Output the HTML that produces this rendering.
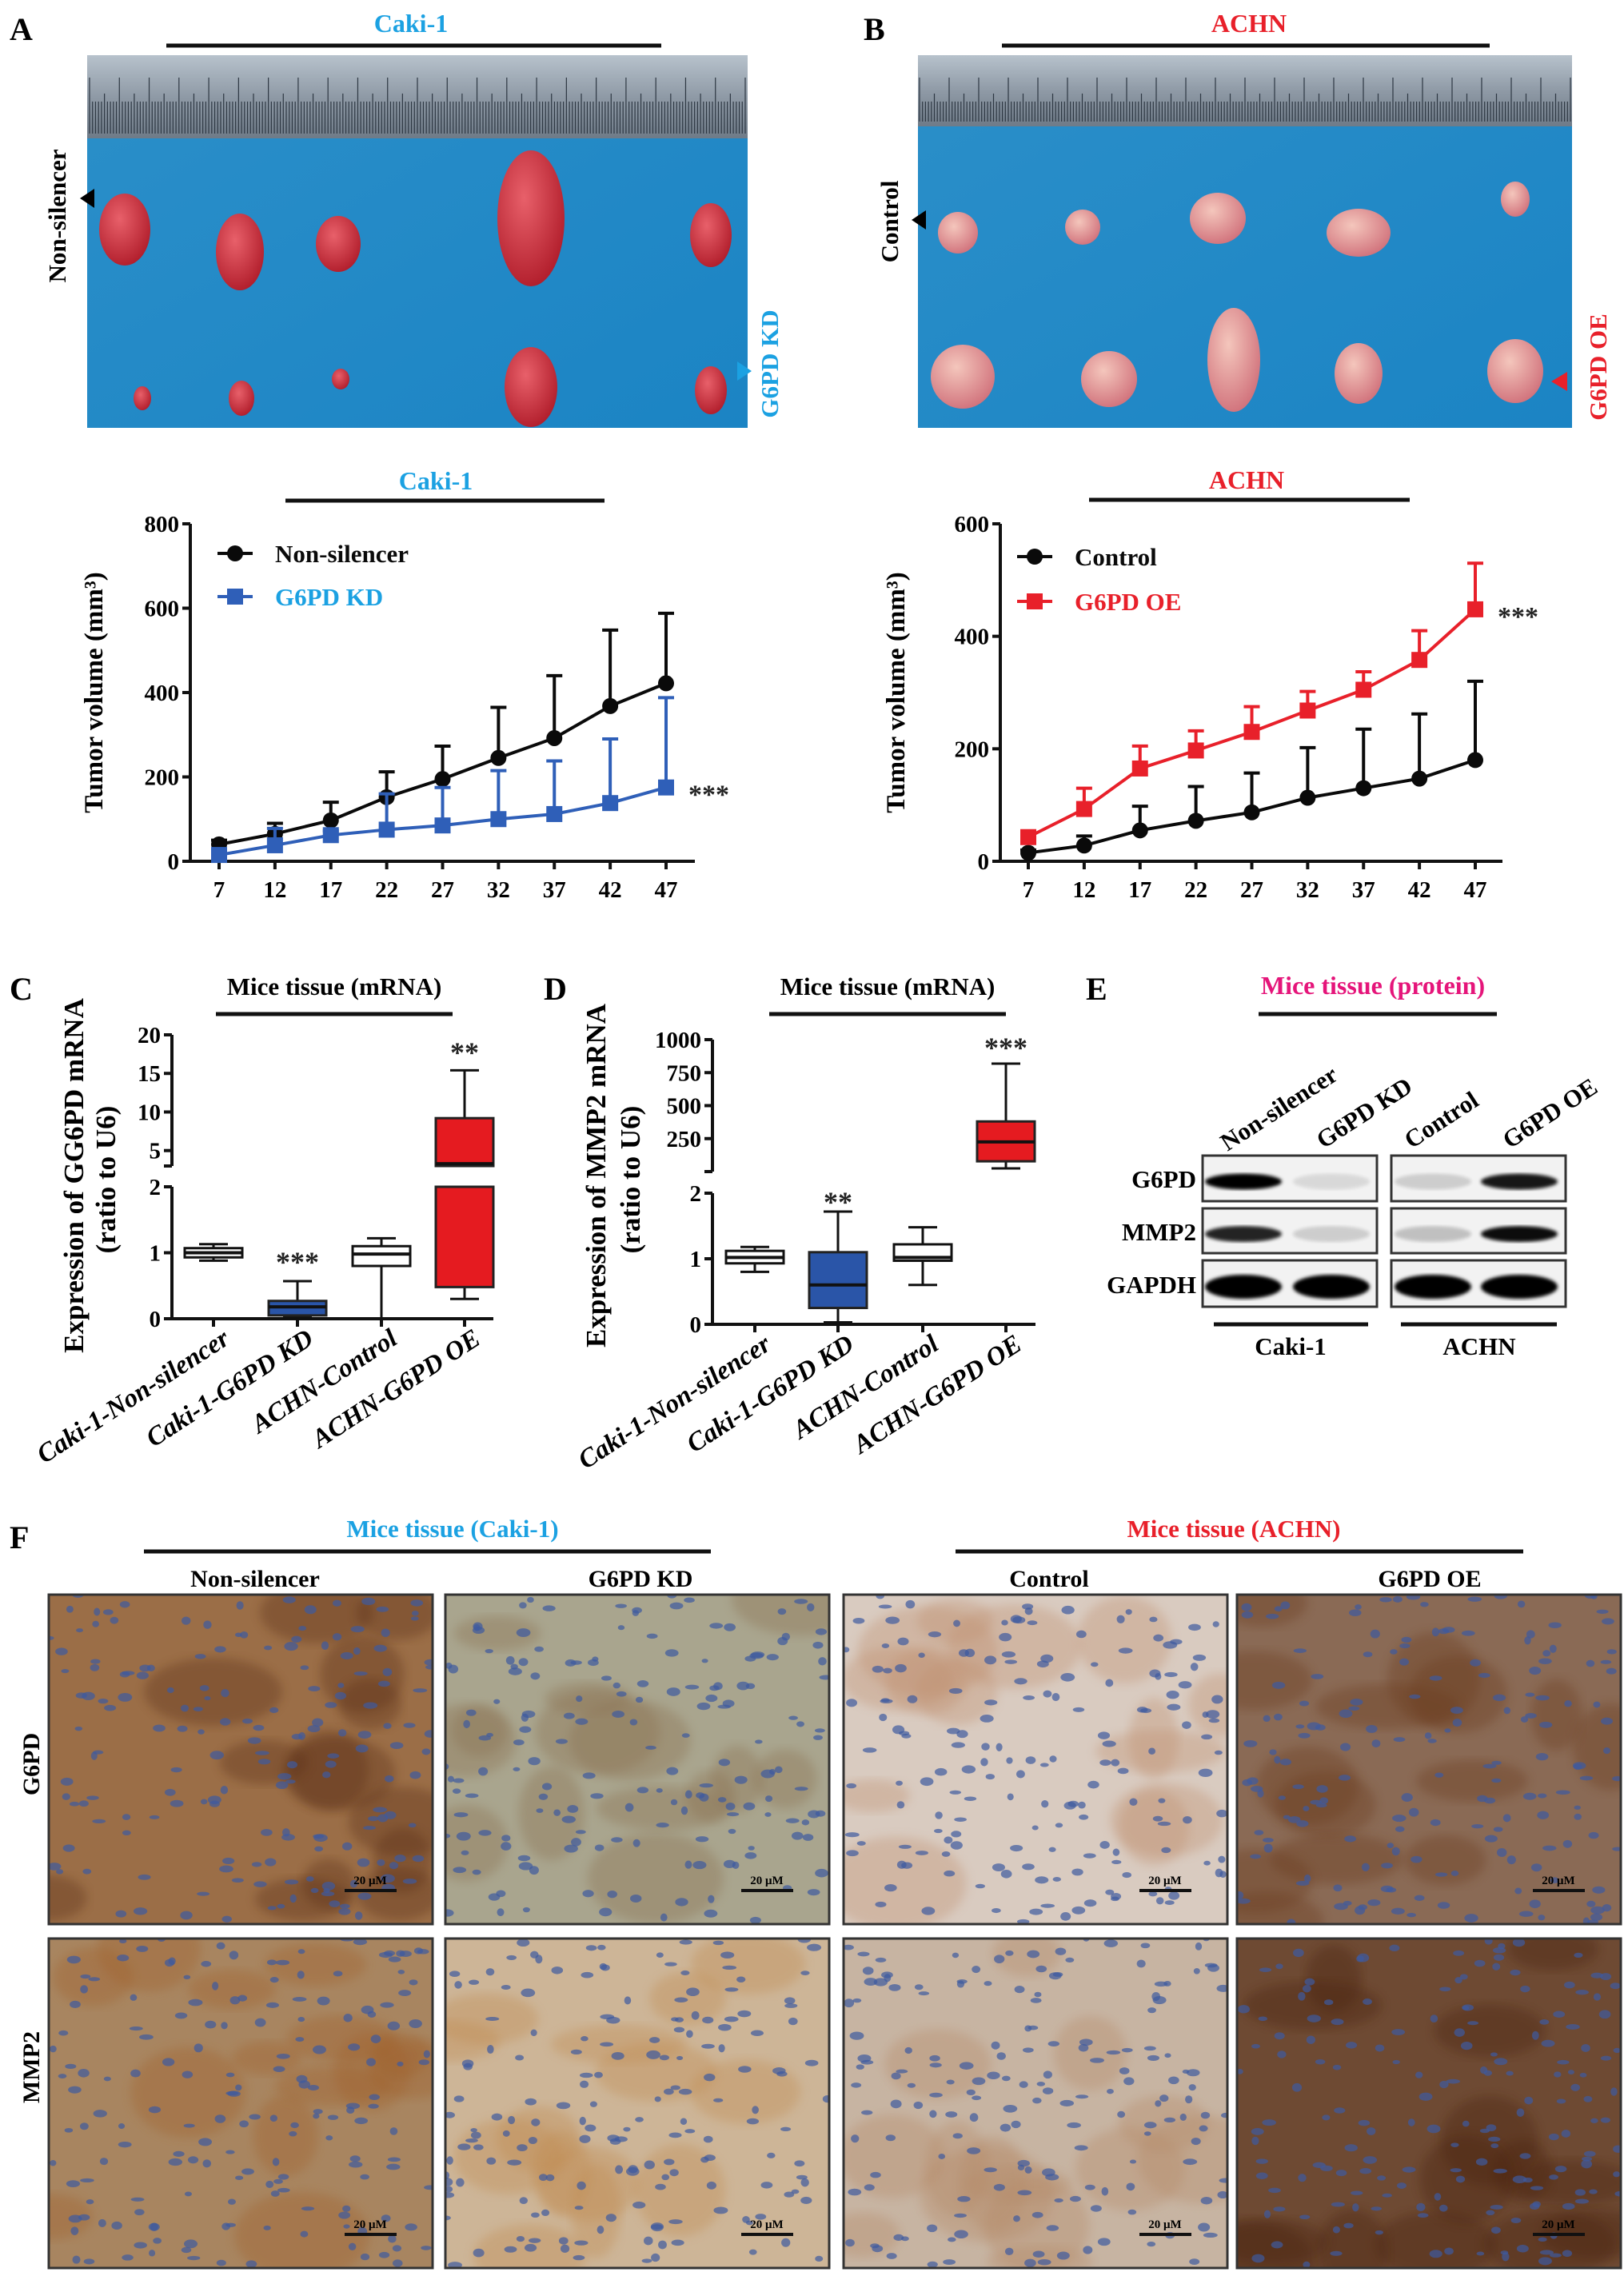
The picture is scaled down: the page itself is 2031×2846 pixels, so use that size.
<!DOCTYPE html>
<html><head><meta charset="utf-8"><title>Figure</title>
<style>
html,body{margin:0;padding:0;background:#fff;}
svg{display:block;font-family:"Liberation Serif",serif;font-weight:bold;}
</style></head>
<body>
<svg id="fig" width="2031" height="2846" viewBox="0 0 2031 2846" xmlns="http://www.w3.org/2000/svg">
<defs>
<linearGradient id="ruler" x1="0" y1="0" x2="0" y2="1"><stop offset="0" stop-color="#b7c2cc"/><stop offset="0.5" stop-color="#8f9aa6"/><stop offset="1" stop-color="#6f7b88"/></linearGradient>
<linearGradient id="blueA" x1="0" y1="0" x2="1" y2="1"><stop offset="0" stop-color="#2b8fc9"/><stop offset="1" stop-color="#1b84c4"/></linearGradient>
<radialGradient id="tumR" cx="0.4" cy="0.35" r="0.7"><stop offset="0" stop-color="#e8606a"/><stop offset="1" stop-color="#b01c2a"/></radialGradient>
<radialGradient id="tumP" cx="0.4" cy="0.35" r="0.7"><stop offset="0" stop-color="#f4c6bc"/><stop offset="1" stop-color="#d0707a"/></radialGradient>
<filter id="blur4"><feGaussianBlur stdDeviation="6"/></filter>
<filter id="blur2"><feGaussianBlur stdDeviation="2"/></filter>
</defs>

<!-- Panel A photo -->
<g>
<text x="12" y="50" font-size="40">A</text>
<text x="514" y="40" font-size="32" fill="#1ba1e2" text-anchor="middle">Caki-1</text>
<line x1="208" y1="57" x2="827" y2="57" stroke="#111" stroke-width="5"/>
<rect x="109" y="69" width="826" height="466" fill="url(#blueA)"/>
<rect x="109" y="69" width="826" height="104" fill="url(#ruler)"/>
<g id="ticksA"></g>
<g id="tumorsA"></g>
<text transform="translate(82,270) rotate(-90)" font-size="31" text-anchor="middle">Non-silencer</text>
<polygon points="100,248 118,236 118,260" fill="#000"/>
<text transform="translate(973,455) rotate(-90)" font-size="31" fill="#1ba1e2" text-anchor="middle">G6PD KD</text>
<polygon points="940,464 922,452 922,476" fill="#1ba1e2"/>
</g>

<!-- Panel B photo -->
<g>
<text x="1080" y="50" font-size="40">B</text>
<text x="1562" y="40" font-size="32" fill="#e8202a" text-anchor="middle">ACHN</text>
<line x1="1253" y1="57" x2="1863" y2="57" stroke="#111" stroke-width="5"/>
<rect x="1148" y="69" width="818" height="466" fill="url(#blueA)"/>
<rect x="1148" y="69" width="818" height="89" fill="url(#ruler)"/>
<g id="ticksB"></g>
<g id="tumorsB"></g>
<text transform="translate(1123,277) rotate(-90)" font-size="31" text-anchor="middle">Control</text>
<polygon points="1140,275 1158,263 1158,287" fill="#000"/>
<text transform="translate(2009,459) rotate(-90)" font-size="31" fill="#e8202a" text-anchor="middle">G6PD OE</text>
<polygon points="1940,477 1960,465 1960,489" fill="#e8202a"/>
</g>

<g id="chartA"></g>
<g id="chartB"></g>
<g id="chartC"></g>
<g id="chartD"></g>

<!-- Panel E western blot -->
<g>
<text x="1358" y="1250" font-size="40">E</text>
<text x="1717" y="1243" font-size="32" fill="#e5157a" text-anchor="middle">Mice tissue (protein)</text>
<line x1="1574" y1="1268" x2="1872" y2="1268" stroke="#111" stroke-width="5"/>
<text transform="translate(1535,1440) rotate(-33)" font-size="31">Non-silencer</text>
<text transform="translate(1655,1437) rotate(-33)" font-size="31">G6PD KD</text>
<text transform="translate(1765,1437) rotate(-33)" font-size="31">Control</text>
<text transform="translate(1888,1437) rotate(-33)" font-size="31">G6PD OE</text>
<g id="blots"></g>
<text x="1496" y="1485" font-size="31" text-anchor="end">G6PD</text>
<text x="1496" y="1551" font-size="31" text-anchor="end">MMP2</text>
<text x="1496" y="1617" font-size="31" text-anchor="end">GAPDH</text>
<line x1="1518" y1="1656" x2="1711" y2="1656" stroke="#111" stroke-width="5"/>
<line x1="1752" y1="1656" x2="1947" y2="1656" stroke="#111" stroke-width="5"/>
<text x="1614" y="1694" font-size="31" text-anchor="middle">Caki-1</text>
<text x="1850" y="1694" font-size="31" text-anchor="middle">ACHN</text>
</g>

<!-- Panel F IHC -->
<g>
<text x="12" y="1936" font-size="40">F</text>
<text x="566" y="1922" font-size="31" fill="#1ba1e2" text-anchor="middle">Mice tissue (Caki-1)</text>
<text x="1543" y="1922" font-size="31" fill="#e8202a" text-anchor="middle">Mice tissue (ACHN)</text>
<line x1="180" y1="1940" x2="889" y2="1940" stroke="#111" stroke-width="5"/>
<line x1="1195" y1="1940" x2="1905" y2="1940" stroke="#111" stroke-width="5"/>
<text x="319" y="1984" font-size="30" text-anchor="middle">Non-silencer</text>
<text x="801" y="1984" font-size="30" text-anchor="middle">G6PD KD</text>
<text x="1312" y="1984" font-size="30" text-anchor="middle">Control</text>
<text x="1788" y="1984" font-size="30" text-anchor="middle">G6PD OE</text>
<text transform="translate(49,2206) rotate(-90)" font-size="30" text-anchor="middle">G6PD</text>
<text transform="translate(49,2585) rotate(-90)" font-size="30" text-anchor="middle">MMP2</text>
<g id="tiles"></g>
</g>
</svg>

<script>
// ===== Chart data =====
const days = [7, 12, 17, 22, 27, 32, 37, 42, 47];
const aNonSilencer = [40, 65, 97, 152, 195, 245, 292, 368, 422];
const aNonSilencerErr = [10, 25, 43, 60, 78, 120, 148, 180, 166];
const aKD = [15, 38, 62, 75, 85, 100, 112, 138, 175];
const aKDErr = [10, 40, 10, 85, 90, 115, 126, 152, 213];
const aTicks = [0, 200, 400, 600, 800];
const bControl = [15, 28, 55, 72, 87, 113, 130, 147, 180];
const bControlErr = [5, 17, 43, 61, 70, 89, 105, 115, 140];
const bOE = [43, 93, 165, 197, 230, 268, 305, 358, 448];
const bOEErr = [5, 37, 40, 35, 45, 34, 32, 52, 82];
const bTicks = [0, 200, 400, 600];

const boxCategories = ["Caki-1-Non-silencer", "Caki-1-G6PD KD", "ACHN-Control", "ACHN-G6PD OE"];
// [whiskerLow, q1, median, q3, whiskerHigh]
const cBoxes = [[0.88, 0.93, 1.0, 1.07, 1.13], [0.02, 0.05, 0.18, 0.27, 0.57], [0.0, 0.8, 0.98, 1.1, 1.22], [0.3, 0.48, 3.3, 9.2, 15.4]];
const cStars = ["", "***", "", "**"];
const cLowTicks = [0, 1, 2];
const cHighTicks = [5, 10, 15, 20];
const dBoxes = [[0.8, 0.93, 1.02, 1.12, 1.18], [0.03, 0.25, 0.6, 1.1, 1.72], [0.6, 0.97, 1.02, 1.22, 1.48], [24, 78, 225, 380, 818]];
const dStars = ["", "**", "", "***"];
const dLowTicks = [0, 1, 2];
const dHighTicks = [250, 500, 750, 1000];

const NS = "http://www.w3.org/2000/svg";
function mk(tag, attrs, parent, txt) {
  const e = document.createElementNS(NS, tag);
  for (const k in attrs) e.setAttribute(k, attrs[k]);
  if (txt !== undefined) e.textContent = txt;
  parent.appendChild(e);
  return e;
}

function lineChart(g, o) {
  const xs = v => o.x0 + (v - 7) / 40 * (o.x1 - o.x0);
  const ys = v => o.y0 - v / o.ymax * (o.y0 - o.yTop);
  let e;
  e = mk("text", {x: o.titleX, y: o.titleY, "font-size": 32, fill: o.titleColor, "text-anchor": "middle"}, g, o.title);
  
  
  e = mk("line", {x1: o.lineX1, x2: o.lineX2, y1: o.lineY, y2: o.lineY, stroke: "#111", "stroke-width": 5}, g);
  
  
  e = mk("path", {d: `M${o.ax},${o.yTop}V${o.y0}H${o.axEnd}`, stroke: "#111", "stroke-width": 4, fill: "none"}, g);
  
  
  o.ticks.forEach(t => {
    e = mk("line", {x1: o.ax - 10, x2: o.ax, y1: ys(t), y2: ys(t), stroke: "#111", "stroke-width": 4}, g);
    
    
    e = mk("text", {x: o.ax - 14, y: ys(t) + 10, "font-size": 29, "text-anchor": "end"}, g, String(t));
    
    
  });
  days.forEach(d => {
    e = mk("line", {x1: xs(d), x2: xs(d), y1: o.y0, y2: o.y0 + 10, stroke: "#111", "stroke-width": 4}, g);
    
    
    e = mk("text", {x: xs(d), y: o.y0 + 45, "font-size": 29, "text-anchor": "middle"}, g, String(d));
    
    
  });
  e = mk("text", {transform: `translate(${o.ytX},${(o.yTop + o.y0) / 2}) rotate(-90)`, "font-size": 33, "text-anchor": "middle"}, g, "Tumor volume (mm³)");
  
  
  o.series.forEach((s, si) => {
    const sg = mk("g", {}, g);
    
    
    s.vals.forEach((v, i) => {
      const x = xs(days[i]);
      e = mk("path", {d: `M${x},${ys(v)}V${ys(v + s.err[i])}M${x - 10},${ys(v + s.err[i])}H${x + 10}`, stroke: s.color, "stroke-width": 4, fill: "none"}, sg);
      
      
    });
    e = mk("polyline", {points: s.vals.map((v, i) => xs(days[i]) + "," + ys(v)).join(" "), stroke: s.color, "stroke-width": 4, fill: "none"}, sg);
    
    
    s.vals.forEach((v, i) => {
      const x = xs(days[i]), y = ys(v);
      if (s.shape === "circle") e = mk("circle", {cx: x, cy: y, r: 10, fill: s.color}, sg);
      else e = mk("rect", {x: x - 10, y: y - 10, width: 20, height: 20, fill: s.color}, sg);
      
      
    });
    const ly = o.legendY[si];
    e = mk("line", {x1: o.legX - 22, x2: o.legX + 22, y1: ly, y2: ly, stroke: s.color, "stroke-width": 4}, g);
    
    
    if (s.shape === "circle") e = mk("circle", {cx: o.legX, cy: ly, r: 10, fill: s.color}, g);
    else e = mk("rect", {x: o.legX - 10, y: ly - 10, width: 20, height: 20, fill: s.color}, g);
    
    
    e = mk("text", {x: o.legX + 50, y: ly + 11, "font-size": 31, fill: s.textColor}, g, s.label);
    
    
  });
  const last = o.starSeries;
  e = mk("text", {x: xs(47) + 28, y: ys(last[last.length - 1]) + 20, "font-size": 34, fill: "#222"}, g, "***");
  
  
}

lineChart(document.getElementById("chartA"), {
  x0: 274, x1: 833, y0: 1077, yTop: 655, ymax: 800, ax: 238, axEnd: 869, ticks: aTicks,
  title: "Caki-1", titleColor: "#1ba1e2", titleX: 545, titleY: 612, lineX1: 357, lineX2: 756, lineY: 626, ytX: 128,
  legX: 294, legendY: [692, 746], starSeries: aKD,
  series: [
    {key: "non-silencer", vals: aNonSilencer, err: aNonSilencerErr, color: "#0a0a0a", textColor: "#0a0a0a", shape: "circle", label: "Non-silencer"},
    {key: "g6pd-kd", vals: aKD, err: aKDErr, color: "#2f5fb8", textColor: "#1ba1e2", shape: "square", label: "G6PD KD"}
  ]
});
lineChart(document.getElementById("chartB"), {
  x0: 1286, x1: 1845, y0: 1077, yTop: 655, ymax: 600, ax: 1251, axEnd: 1879, ticks: bTicks,
  title: "ACHN", titleColor: "#e8202a", titleX: 1559, titleY: 611, lineX1: 1362, lineX2: 1763, lineY: 625, ytX: 1131,
  legX: 1294, legendY: [696, 752], starSeries: bOE,
  series: [
    {key: "control", vals: bControl, err: bControlErr, color: "#0a0a0a", textColor: "#0a0a0a", shape: "circle", label: "Control"},
    {key: "g6pd-oe", vals: bOE, err: bOEErr, color: "#e8202a", textColor: "#e8202a", shape: "square", label: "G6PD OE"}
  ]
});

function boxChart(g, o) {
  const lowY = v => o.low0 - v / 2 * (o.low0 - o.low2);
  const hiY = v => o.hiBot - (v - o.hiMin) / (o.hiMax - o.hiMin) * (o.hiBot - o.hiTop);
  const Y = v => v <= 2 ? lowY(v) : (v >= o.hiMin ? hiY(v) : o.hiBot);
  let e;
  e = mk("text", {x: o.letterX, y: 1250, "font-size": 40}, g, o.letter);
  
  
  e = mk("text", {x: o.titleX, y: 1244, "font-size": 31, "text-anchor": "middle"}, g, "Mice tissue (mRNA)");
  
  
  e = mk("line", {x1: o.titleX - 148, x2: o.titleX + 148, y1: 1268, y2: 1268, stroke: "#111", "stroke-width": 5}, g);
  
  
  e = mk("path", {d: `M${o.ax},${o.hiTop}V${o.hiBot}M${o.ax},${o.low2}V${o.low0}H${o.axEnd}`, stroke: "#111", "stroke-width": 4, fill: "none"}, g);
  
  
  e = mk("line", {x1: o.ax - 10, x2: o.ax, y1: o.hiBot, y2: o.hiBot, stroke: "#111", "stroke-width": 4}, g);
  
  
  o.lowTicks.forEach(t => {
    e = mk("line", {x1: o.ax - 10, x2: o.ax, y1: lowY(t), y2: lowY(t), stroke: "#111", "stroke-width": 4}, g);
    
    
    e = mk("text", {x: o.ax - 14, y: lowY(t) + 10, "font-size": 29, "text-anchor": "end"}, g, String(t));
    
    
  });
  o.hiTicks.forEach(t => {
    e = mk("line", {x1: o.ax - 10, x2: o.ax, y1: hiY(t), y2: hiY(t), stroke: "#111", "stroke-width": 4}, g);
    
    
    e = mk("text", {x: o.ax - 14, y: hiY(t) + 10, "font-size": 29, "text-anchor": "end"}, g, String(t));
    
    
  });
  e = mk("text", {transform: `translate(${o.yt1},1470) rotate(-90)`, "font-size": 35, "text-anchor": "middle"}, g, o.ytitle);
  
  
  e = mk("text", {transform: `translate(${o.yt2},1475) rotate(-90)`, "font-size": 35, "text-anchor": "middle"}, g, "(ratio to U6)");
  
  
  const hw = 36;
  boxCategories.forEach((c, i) => {
    const x = o.cx[i], b = o.boxes[i], col = o.fills[i];
    const bg = mk("g", {}, g);
    
    
    e = mk("path", {d: `M${x},${Y(b[0])}V${Y(b[1])}M${x},${Y(b[3])}V${Y(b[4])}M${x - 18},${Y(b[0])}H${x + 18}M${x - 18},${Y(b[4])}H${x + 18}`, stroke: "#111", "stroke-width": 3, fill: "none"}, bg);
    
    
    const segs = [];
    if (b[1] < 2 && b[3] > 2) { segs.push([b[1], 2]); segs.push([o.hiMin, b[3]]); }
    else segs.push([b[1], b[3]]);
    segs.forEach(s => {
      const yt = Y(s[1]), yb = Y(s[0]);
      e = mk("rect", {x: x - hw, y: yt, width: 2 * hw, height: yb - yt, fill: col, stroke: col === "#fff" ? "#111" : "#222", "stroke-width": 3}, bg);
      
      
    });
    e = mk("line", {x1: x - hw, x2: x + hw, y1: Y(b[2]), y2: Y(b[2]), stroke: "#111", "stroke-width": 4}, bg);
    
    
    e = mk("line", {x1: x, x2: x, y1: o.low0, y2: o.low0 + 10, stroke: "#111", "stroke-width": 4}, g);
    
    
    e = mk("text", {transform: `translate(${x + 22},${o.low0 + 30}) rotate(-33)`, "font-size": 33, "font-style": "italic", "text-anchor": "end"}, g, c);
    
    
    if (o.stars[i]) {
      const sy = o.starY[i];
      e = mk("text", {x: x, y: sy, "font-size": 36, "text-anchor": "middle", fill: "#222"}, g, o.stars[i]);
      
      
    }
  });
}

boxChart(document.getElementById("chartC"), {
  letter: "C", letterX: 12, titleX: 418, ax: 215, axEnd: 617, cx: [267, 372, 477, 581],
  low0: 1649, low2: 1484, hiBot: 1458, hiTop: 1294, hiMin: 3, hiMax: 20,
  lowTicks: cLowTicks, hiTicks: cHighTicks, boxes: cBoxes, stars: cStars, starY: [0, 1590, 0, 1328],
  fills: ["#fff", "#2a55a8", "#fff", "#e51b20"], ytitle: "Expression of GG6PD mRNA", yt1: 104, yt2: 144
});
boxChart(document.getElementById("chartD"), {
  letter: "D", letterX: 680, titleX: 1110, ax: 891, axEnd: 1295, cx: [944, 1048, 1154, 1258],
  low0: 1656, low2: 1492, hiBot: 1465, hiTop: 1300, hiMin: 0, hiMax: 1000,
  lowTicks: dLowTicks, hiTicks: dHighTicks, boxes: dBoxes, stars: dStars, starY: [0, 1515, 0, 1322],
  fills: ["#fff", "#2a55a8", "#fff", "#e51b20"], ytitle: "Expression of MMP2 mRNA", yt1: 757, yt2: 800
});

// ===== decorative photo / blot / IHC drawing =====
let seed = 7;
function rnd() { seed = (seed * 16807) % 2147483647; return (seed - 1) / 2147483646; }

function ruler(gid, x0, x1, yTop, yBot, n) {
  const g = document.getElementById(gid);
  let e;
  for (let i = 0; i <= n; i++) {
    const x = x0 + i * (x1 - x0) / n;
    const big = i % 10 === 0, mid = i % 5 === 0;
    e = mk("line", {x1: x, x2: x, y1: big ? yTop + 28 : (mid ? yTop + 48 : yTop + 58), y2: yBot - 6, stroke: "#2d3742", "stroke-width": 1.2}, g);
    
    
  }
}
ruler("ticksA", 112, 932, 69, 173, 220);
ruler("ticksB", 1150, 1964, 69, 158, 220);

const tumorsA = [[156,287,32,45],[300,315,30,48],[423,305,28,35],[664,273,42,85],[889,294,26,40],[178,498,11,15],[302,498,16,22],[426,474,11,13],[664,484,33,50],[889,488,20,30]];
const tumorsB = [[1198,291,25,26],[1354,284,22,22],[1523,273,35,32],[1699,291,40,30],[1895,249,18,22],[1204,471,40,40],[1387,474,35,35],[1543,450,33,65],[1699,467,30,38],[1895,464,35,40]];
function tumors(gid, list, fill) {
  const g = document.getElementById(gid);
  list.forEach(t => {
    const e = mk("ellipse", {cx: t[0], cy: t[1], rx: t[2], ry: t[3], fill: fill}, g);
    
    
  });
}
tumors("tumorsA", tumorsA, "url(#tumR)");
tumors("tumorsB", tumorsB, "url(#tumP)");

// western blot
const bands = {
  g6pd: [1.0, 0.1, 0.15, 0.9],
  mmp2: [0.85, 0.15, 0.2, 0.95],
  gapdh: [1.0, 1.0, 1.0, 1.0]
};
(function () {
  const g = document.getElementById("blots");
  const rows = [["g6pd", 1445, 57], ["mmp2", 1511, 56], ["gapdh", 1576, 58]];
  const frames = [[1504, 218], [1740, 218]];
  const laneX = [1555, 1665, 1792, 1900];
  let e;
  rows.forEach(r => {
    frames.forEach(f => {
      e = mk("rect", {x: f[0], y: r[1], width: f[1], height: r[2], fill: "#f2f2f2", stroke: "#333", "stroke-width": 3}, g);
      
      
    });
    bands[r[0]].forEach((v, i) => {
      e = mk("ellipse", {cx: laneX[i], cy: r[1] + r[2] / 2 + 4, rx: 48, ry: r[0] === "gapdh" ? 15 : 10, fill: "#000", opacity: v, filter: "url(#blur2)"}, g);
      
      
    });
  });
})();

// IHC tiles
const tileCols = [61, 557, 1055, 1547];
const tileRows = [1994, 2424];
const tileBg = [["#9b6e47", "#a9a58e", "#d9cbc0", "#8a6a55"], ["#a88560", "#cdb597", "#c7b4a2", "#6e4a33"]];
const tileStain = [["#5a2e12", "#8a7050", "#c09070", "#6a3b1c"], ["#a0602a", "#c08a50", "#b58a68", "#4a2410"]];
(function () {
  const g = document.getElementById("tiles");
  let e;
  tileRows.forEach((ty, r) => {
    tileCols.forEach((tx, c) => {
      const w = 480, h = 412;
      const cl = "clip" + r + c;
      const cp = mk("clipPath", {id: cl}, g);
      mk("rect", {x: tx, y: ty, width: w, height: h}, cp);
      const tg = mk("g", {"clip-path": `url(#${cl})`}, g);
      
      
      mk("rect", {x: tx, y: ty, width: w, height: h, fill: tileBg[r][c]}, tg);
      for (let k = 0; k < 14; k++) {
        mk("ellipse", {cx: tx + rnd() * w, cy: ty + rnd() * h, rx: 30 + rnd() * 60, ry: 20 + rnd() * 40, fill: tileStain[r][c], opacity: 0.35, filter: "url(#blur4)"}, tg);
      }
      for (let k = 0; k < 170; k++) {
        mk("ellipse", {cx: tx + rnd() * w, cy: ty + rnd() * h, rx: 4 + rnd() * 5, ry: 2.5 + rnd() * 3, fill: "#3d5aa0", opacity: 0.7}, tg);
      }
      e = mk("rect", {x: tx, y: ty, width: w, height: h, fill: "none", stroke: "#333", "stroke-width": 3}, g);
      
      
      e = mk("line", {x1: tx + w - 110, x2: tx + w - 45, y1: ty + h - 42, y2: ty + h - 42, stroke: "#111", "stroke-width": 4}, g);
      
      
      e = mk("text", {x: tx + w - 78, y: ty + h - 50, "font-size": 15, "text-anchor": "middle"}, g, "20 μM");
      
      
    });
  });
})();
</script>
</body></html>
